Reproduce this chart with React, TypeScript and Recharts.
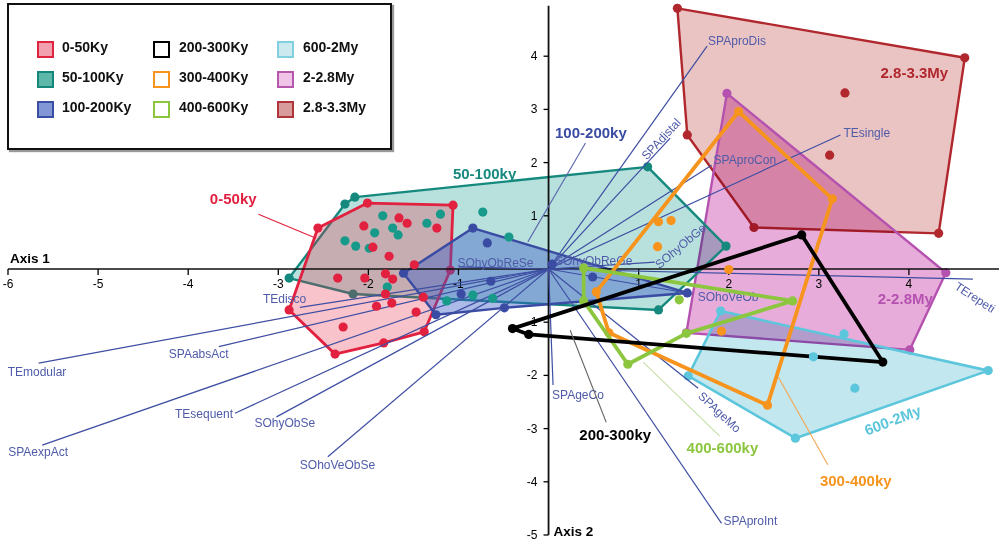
import React from 'react';
import { ScatterChart, Scatter, XAxis, YAxis } from 'recharts';

type Pt = { x: number; y: number };
const FONT = '"Liberation Sans", Arial, Helvetica, sans-serif';
const pts = (a: number[][]): Pt[] => a.map(([x, y]) => ({ x, y }));

// ---------- group hulls (data coords: Axis 1, Axis 2) ----------
const hull0_50 = pts([[-2.56, 0.77], [-2.01, 1.24], [-1.06, 1.2], [-1.09, -0.02], [-1.38, -1.18], [-1.83, -1.39], [-2.37, -1.6], [-2.88, -0.77]]);
const pts0_50 = pts([[-2.05, 0.81], [-1.66, 0.96], [-1.57, 0.86], [-1.24, 0.77], [-1.95, 0.41], [-1.77, 0.24], [-1.49, 0.08], [-2.34, -0.17], [-2.04, -0.17], [-1.81, -0.09], [-1.73, -0.19], [-1.81, -0.47], [-1.91, -0.7], [-1.74, -0.64], [-1.47, -0.81], [-1.39, -0.53], [-2.28, -1.09]]);
const hull50_100 = pts([[-2.88, -0.17], [-2.26, 1.22], [-2.15, 1.35], [1.1, 1.92], [1.97, 0.43], [1.22, -0.77], [-2.17, -0.47]]);
const pts50_100 = pts([[-1.84, 1.0], [-1.93, 0.68], [-1.73, 0.77], [-1.67, 0.64], [-1.35, 0.86], [-1.2, 1.03], [-0.73, 1.07], [-0.44, 0.6], [-2.26, 0.53], [-2.14, 0.43], [-1.99, 0.39], [-1.79, -0.34], [-1.13, -0.6], [-0.84, -0.49], [-0.62, -0.55]]);
const hull100_200 = pts([[-1.61, -0.08], [-0.84, 0.77], [1.54, -0.45], [-0.49, -0.73], [-1.25, -0.86]]);
const pts100_200 = pts([[-0.68, 0.49], [0.04, 0.09], [-0.64, -0.23], [-0.97, -0.47], [0.49, -0.15]]);
const hull200_300 = pts([[-0.4, -1.12], [2.81, 0.64], [3.71, -1.75], [-0.22, -1.23]]);
const hull300_400 = pts([[0.53, -0.43], [2.11, 2.96], [3.15, 1.32], [2.43, -2.56], [0.67, -1.2]]);
const pts300_400 = pts([[1.22, 0.89], [1.36, 0.91], [1.21, 0.42], [2.0, -0.01], [1.92, -1.17]]);
const hull400_600 = pts([[0.39, 0.02], [2.71, -0.6], [1.53, -1.21], [0.88, -1.79], [0.39, -0.6]]);
const pts400_600 = pts([[1.45, -0.58]]);
const hull600_2 = pts([[1.91, -0.79], [4.88, -1.91], [2.74, -3.18], [1.55, -2.01]]);
const pts600_2 = pts([[3.28, -1.22], [2.94, -1.65], [3.4, -2.24]]);
const hull2_28 = pts([[1.98, 3.3], [4.41, -0.07], [4.01, -1.52], [1.53, -1.2]]);
const hull28_33 = pts([[1.43, 4.9], [4.62, 3.97], [4.33, 0.67], [2.28, 0.78], [1.54, 2.52]]);
const pts28_33 = pts([[3.29, 3.31], [3.12, 2.14]]);

// ---------- variable loadings ----------
const loadingNames = ['SPAproDis', 'SPAdistal', 'SPAproCon', 'TEsingle', 'TErepeti', 'SOhyObGe', 'SOhoVeOb', 'SPAgeMo', 'SPAproInt', 'SPAgeCo', 'SOhoVeObSe', 'SOhyObSe', 'TEsequent', 'SPAexpAct', 'TEmodular', 'SPAabsAct', 'TEdisco', 'SOhyObReSe', 'SOhyObReGe'];
const loadingX = [1.76, 1.35, 1.81, 3.24, 4.71, 1.18, 1.6, 1.66, 1.92, 0.05, -2.45, -3.02, -3.48, -5.62, -5.66, -3.66, -2.76, -1.0, 0.06];
const loadingY = [4.19, 2.46, 1.95, 2.52, -0.19, 0.13, -0.47, -2.24, -4.78, -2.18, -3.53, -2.78, -2.71, -3.31, -1.77, -1.46, -0.72, 0.04, 0.09];

// ---------- group labels ----------
const groupLabelText = ['0-50ky', '50-100ky', '100-200ky', '200-300ky', '400-600ky', '300-400ky', '600-2My', '2-2.8My', '2.8-3.3My'];
const groupLabelX = [-3.5, -0.71, 0.47, 0.74, 1.93, 3.41, 3.82, 3.96, 4.06];
const groupLabelY = [1.33, 1.8, 2.56, -3.12, -3.35, -3.97, -2.84, -0.56, 3.7];
const leaderFrom = pts([[-3.22, 1.03], [0.41, 2.37], [0.64, -2.88], [1.9, -3.14], [3.1, -3.68]]);
const leaderTo = pts([[-2.58, 0.58], [-0.23, 0.51], [0.24, -1.15], [1.05, -1.75], [2.55, -2.03]]);

// ---------- axes ----------
const xTickValues = [-6, -5, -4, -3, -2, -1, 1, 2, 3, 4];
const yTickValues = [4, 3, 2, 1, -1, -2, -3, -4, -5];
const legendLabels = ['0-50Ky', '50-100Ky', '100-200Ky', '200-300Ky', '300-400Ky', '400-600Ky', '600-2My', '2-2.8My', '2.8-3.3My'];

// ---------- styles ----------
const C = {
  red: '#e2203f', teal: '#15897e', blue: '#3a4ba3', black: '#000', orange: '#f7941d', green: '#8cc63f', cyan: '#5cc6dc', mag: '#b552b0', dred: '#b0272d',
};
const LEGEND_STYLE: Record<string, { fill: string; stroke: string }> = {
  '0-50Ky': { fill: '#f2a0b0', stroke: '#e0233f' },
  '50-100Ky': { fill: '#5db8aa', stroke: '#15877a' },
  '100-200Ky': { fill: '#8197d6', stroke: '#3a4ea5' },
  '200-300Ky': { fill: '#fff', stroke: '#000' },
  '300-400Ky': { fill: '#fff', stroke: '#f7941d' },
  '400-600Ky': { fill: '#fff', stroke: '#8cc63f' },
  '600-2My': { fill: '#cbe9ef', stroke: '#80d0e0' },
  '2-2.8My': { fill: '#efc4e6', stroke: '#b558ab' },
  '2.8-3.3My': { fill: '#d99c9c', stroke: '#b0353a' },
};
const GROUP_LABEL_STYLE: Record<string, { color: string; rot: number }> = {
  '0-50ky': { color: '#e2203f', rot: 0 },
  '50-100ky': { color: '#15897e', rot: 0 },
  '100-200ky': { color: '#3a4ba3', rot: 0 },
  '200-300ky': { color: '#000', rot: 0 },
  '400-600ky': { color: '#8cc63f', rot: 0 },
  '300-400ky': { color: '#f7941d', rot: 0 },
  '600-2My': { color: '#5cc6dc', rot: -21 },
  '2-2.8My': { color: '#b552b0', rot: 0 },
  '2.8-3.3My': { color: '#b0272d', rot: 0 },
};
const LEADER_COLOR = ['#e2203f', '#5a66ad', '#666', '#c6dfa8', '#f3a650'];
const LOAD_LABEL: Record<string, { dx: number; dy: number; anchor: string; rot: number }> = {
  SPAproDis: { dx: 1, dy: -5, anchor: 'start', rot: 0 },
  SPAdistal: { dx: -9, dy: 1, anchor: 'middle', rot: -47 },
  SPAproCon: { dx: 2, dy: -5, anchor: 'start', rot: 0 },
  TEsingle: { dx: 3, dy: -2, anchor: 'start', rot: 0 },
  TErepeti: { dx: -17, dy: 6, anchor: 'start', rot: 33 },
  SOhyObGe: { dx: 2, dy: 4, anchor: 'start', rot: -40 },
  SOhoVeOb: { dx: 5, dy: 3, anchor: 'start', rot: 0 },
  SPAgeMo: { dx: 2, dy: 6, anchor: 'start', rot: 43 },
  SPAproInt: { dx: 2, dy: -2, anchor: 'start', rot: 0 },
  SPAgeCo: { dx: -1, dy: 10, anchor: 'start', rot: 0 },
  SOhoVeObSe: { dx: -28, dy: 8, anchor: 'start', rot: 0 },
  SOhyObSe: { dx: -22, dy: 6, anchor: 'start', rot: 0 },
  TEsequent: { dx: -2, dy: 1, anchor: 'end', rot: 0 },
  SPAexpAct: { dx: -34, dy: 7, anchor: 'start', rot: 0 },
  TEmodular: { dx: -31, dy: 9, anchor: 'start', rot: 0 },
  SPAabsAct: { dx: -50, dy: 7, anchor: 'start', rot: 0 },
  TEdisco: { dx: -37, dy: -8, anchor: 'start', rot: 0 },
  SOhyObReSe: { dx: -1, dy: -4, anchor: 'start', rot: 0 },
  SOhyObReGe: { dx: 1, dy: -3, anchor: 'start', rot: 0 },
};

// ---------- renderers ----------
const pathOf = (p: any, close: boolean) => {
  const list = (p.points || []) as { x: number; y: number }[];
  return list.map((q, i) => `${i ? 'L' : 'M'}${q.x},${q.y}`).join(' ') + (close ? ' Z' : '');
};
type FillSpec = { color: string; opacity: number; multiply: boolean } | null;
const polygonLine = (fill: FillSpec, stroke: string, sw: number) => (p: any) => {
  const d = pathOf(p, true);
  return (
    <g>
      {fill && (
        <path d={d} fill={fill.color} fillOpacity={fill.opacity} stroke="none"
          style={fill.multiply ? { mixBlendMode: 'multiply' } : undefined} />
      )}
      <path d={d} fill="none" stroke={stroke} strokeWidth={sw} strokeLinejoin="round" />
    </g>
  );
};
const simpleLine = (stroke: string, sw: number) => (p: any) => (
  <path d={pathOf(p, false)} fill="none" stroke={stroke} strokeWidth={sw} />
);
const dot = (color: string, r = 4.6) => (p: any) =>
  p.cx == null ? <g /> : <circle cx={p.cx} cy={p.cy} r={r} fill={color} />;
const noShape = () => <g />;

const xTickShape = (p: any) => (
  <g>
    <line x1={p.cx} y1={p.cy} x2={p.cx} y2={p.cy + 6} stroke="#000" strokeWidth={1.3} />
    <text x={p.cx} y={p.cy + 15} textAnchor="middle" dominantBaseline="central" fontSize={12} fontFamily={FONT} fill="#000">{p.payload.label}</text>
  </g>
);
const yTickShape = (p: any) => (
  <g>
    <line x1={p.cx - 5} y1={p.cy} x2={p.cx} y2={p.cy} stroke="#000" strokeWidth={1.3} />
    <text x={p.cx - 11} y={p.cy} textAnchor="end" dominantBaseline="central" fontSize={12} fontFamily={FONT} fill="#000">{p.payload.label}</text>
  </g>
);
const loadLabelShape = (p: any) => {
  const name = p.payload && p.payload.name;
  if (!name) return <g />;
  const s = LOAD_LABEL[name];
  const x = p.cx + s.dx;
  const y = p.cy + s.dy;
  return (
    <text x={x} y={y} textAnchor={s.anchor as any} dominantBaseline="central" fontSize={12} fontFamily={FONT} fill="#4f5ba8"
      transform={s.rot ? `rotate(${s.rot} ${x} ${y})` : undefined}>{name}</text>
  );
};
const groupLabelShape = (p: any) => {
  const t = p.payload.text as string;
  const s = GROUP_LABEL_STYLE[t];
  return (
    <text x={p.cx} y={p.cy} textAnchor="middle" dominantBaseline="central" fontSize={15} fontWeight="bold" fontFamily={FONT} fill={s.color}
      transform={s.rot ? `rotate(${s.rot} ${p.cx} ${p.cy})` : undefined}>{t}</text>
  );
};
const axisTitleShape = (p: any) => (
  <text x={p.cx + p.payload.dx} y={p.cy + p.payload.dy} textAnchor="start" dominantBaseline="central" fontSize={13.5} fontWeight="bold" fontFamily={FONT} fill="#000">{p.payload.label}</text>
);

const Legend = () => (
  <div style={{ position: 'absolute', left: 7, top: 3, width: 381, height: 143, border: '2px solid #111', background: '#fff', boxShadow: '2px 2px 1px #999', fontFamily: FONT }}>
    {legendLabels.map((l, i) => {
      const col = Math.floor(i / 3);
      const row = i % 3;
      const s = LEGEND_STYLE[l];
      const lefts = [28, 144, 268];
      const textLefts = [53, 170, 294];
      return (
        <React.Fragment key={l}>
          <div style={{ position: 'absolute', left: lefts[col], top: 36 + row * 30, width: 13, height: 13, background: s.fill, border: `2px solid ${s.stroke}` }} />
          <div style={{ position: 'absolute', left: textLefts[col], top: 34 + row * 30, fontSize: 14, fontWeight: 'bold', color: '#111', lineHeight: '17px', whiteSpace: 'nowrap' }}>{l}</div>
        </React.Fragment>
      );
    })}
  </div>
);

export default function App() {
  const hulls: { data: Pt[]; fill: FillSpec; stroke: string; sw: number }[] = [
    { data: hull28_33, fill: { color: '#eac4c3', opacity: 1, multiply: true }, stroke: C.dred, sw: 2.4 },
    { data: hull2_28, fill: { color: '#e8acda', opacity: 1, multiply: true }, stroke: C.mag, sw: 2.4 },
    { data: hull600_2, fill: { color: '#c3e7ef', opacity: 1, multiply: true }, stroke: C.cyan, sw: 2.6 },
    { data: hull50_100, fill: { color: '#b8e1dd', opacity: 1, multiply: true }, stroke: C.teal, sw: 2.4 },
    { data: hull0_50, fill: { color: '#e8203f', opacity: 0.27, multiply: false }, stroke: C.red, sw: 2.8 },
    { data: hull100_200, fill: { color: '#3a5ac8', opacity: 0.42, multiply: false }, stroke: C.blue, sw: 2.4 },
  ];
  const outlines = [
    { data: hull300_400, stroke: C.orange, sw: 3.8 },
    { data: hull400_600, stroke: C.green, sw: 3.8 },
    { data: hull200_300, stroke: C.black, sw: 3.8 },
  ];
  const interior = [
    { data: pts28_33, color: C.dred },
    { data: pts600_2, color: C.cyan },
    { data: pts50_100, color: '#179a8a' },
    { data: pts0_50, color: C.red },
    { data: pts100_200, color: C.blue },
    { data: pts300_400, color: C.orange },
    { data: pts400_600, color: C.green },
  ];
  const xTicks = xTickValues.map((v) => ({ x: v, y: 0, label: String(v) }));
  const yTicks = yTickValues.map((v) => ({ x: 0, y: v, label: String(v) }));
  const groupLabels = groupLabelText.map((t, i) => ({ x: groupLabelX[i], y: groupLabelY[i], text: t }));

  return (
    <div style={{ position: 'absolute', left: 0, top: 0, width: 1000, height: 543, background: '#fff' }}>
      <ScatterChart width={1000} height={543} margin={{ top: 3, right: 1, bottom: 8, left: 8 }}>
        <XAxis type="number" dataKey="x" domain={[-6, 5]} hide />
        <YAxis type="number" dataKey="y" domain={[-5, 5]} hide />
        {hulls.map((h, i) => (
          <Scatter key={'h' + i} data={h.data} line={polygonLine(h.fill, h.stroke, h.sw)} shape={dot(h.stroke)} isAnimationActive={false} />
        ))}
        <Scatter data={[{ x: -6, y: 0 }, { x: 5, y: 0 }]} line={simpleLine('#111', 1.5)} shape={noShape} isAnimationActive={false} />
        <Scatter data={[{ x: 0, y: -5 }, { x: 0, y: 4.95 }]} line={simpleLine('#111', 1.8)} shape={noShape} isAnimationActive={false} />
        <Scatter data={xTicks} shape={xTickShape} isAnimationActive={false} />
        <Scatter data={yTicks} shape={yTickShape} isAnimationActive={false} />
        {loadingNames.map((n, i) => (
          <Scatter key={'l' + n} data={[{ x: 0, y: 0 }, { x: loadingX[i], y: loadingY[i], name: n }]} line={simpleLine('#3e4ea2', 1.2)} shape={loadLabelShape} isAnimationActive={false} />
        ))}
        {outlines.map((h, i) => (
          <Scatter key={'o' + i} data={h.data} line={polygonLine(null, h.stroke, h.sw)} shape={dot(h.stroke)} isAnimationActive={false} />
        ))}
        {interior.map((g, i) => (
          <Scatter key={'p' + i} data={g.data} shape={dot(g.color)} isAnimationActive={false} />
        ))}
        {leaderFrom.map((f, i) => (
          <Scatter key={'ld' + i} data={[f, leaderTo[i]]} line={simpleLine(LEADER_COLOR[i], 1.1)} shape={noShape} isAnimationActive={false} />
        ))}
        <Scatter data={groupLabels} shape={groupLabelShape} isAnimationActive={false} />
        <Scatter data={[{ x: -6, y: 0, label: 'Axis 1', dx: 2, dy: -11 }, { x: 0, y: -5, label: 'Axis 2', dx: 5, dy: -4 }]} shape={axisTitleShape} isAnimationActive={false} />
      </ScatterChart>
      <Legend />
    </div>
  );
}
